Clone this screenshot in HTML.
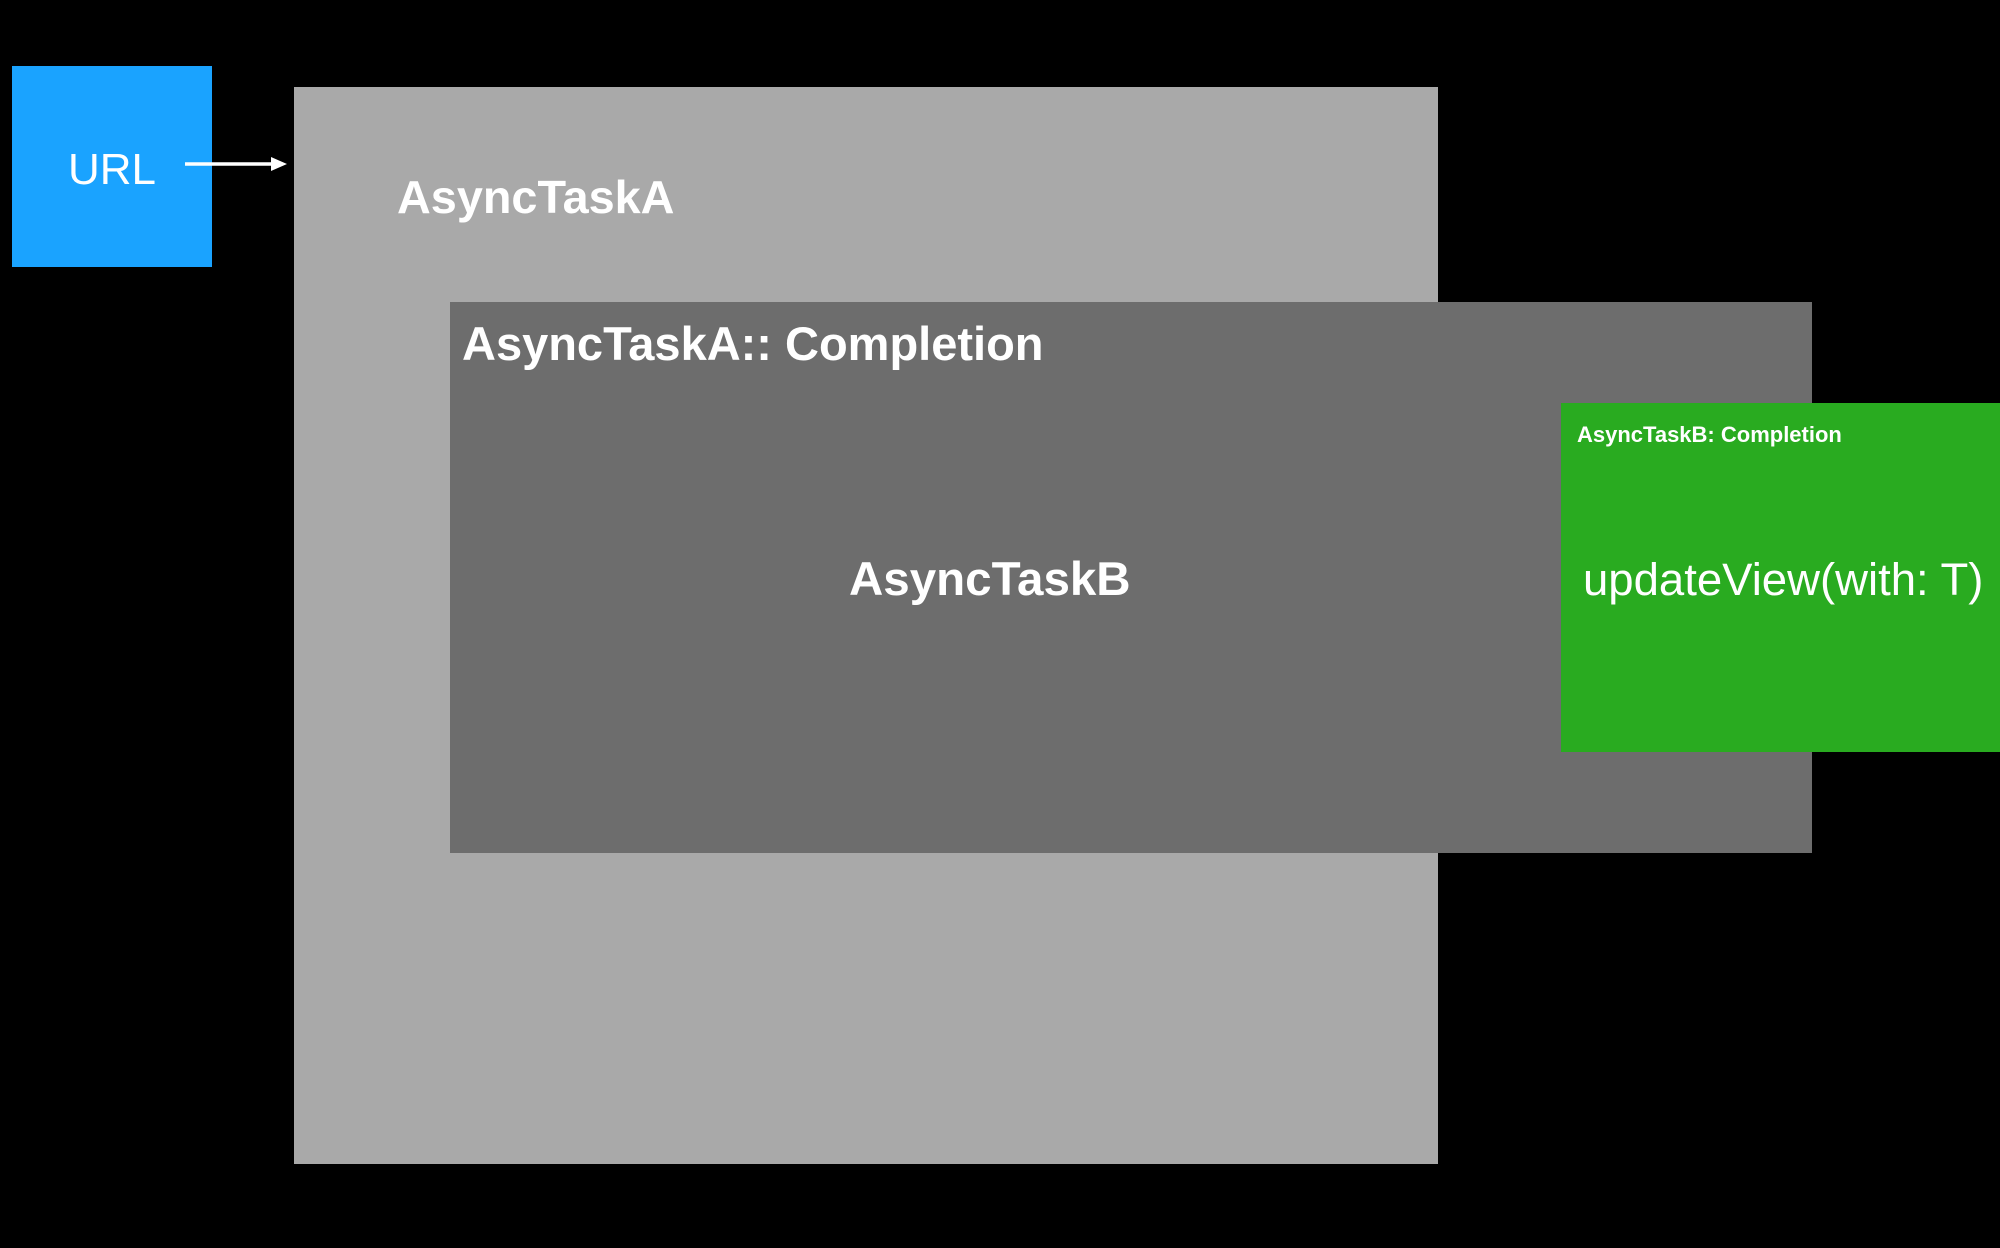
<!DOCTYPE html>
<html><head><meta charset="utf-8"><style>
body{margin:0;width:2000px;height:1248px;background:#000;position:relative;overflow:hidden;font-family:"Liberation Sans",sans-serif;color:#fff}
div{position:absolute;box-sizing:border-box}
.t{white-space:nowrap;line-height:1}
</style></head><body>
<div style="left:12px;top:66px;width:200px;height:201px;background:#1aa3ff"></div>
<div class="t" style="left:68px;top:148px;font-size:44px">URL</div>
<svg style="position:absolute;left:0;top:0" width="2000" height="1248">
<line x1="185" y1="164" x2="275" y2="164" stroke="#fff" stroke-width="3.5"/>
<polygon points="287,164 271,157 271,171" fill="#fff"/>
</svg>
<div style="left:294px;top:87px;width:1144px;height:1077px;background:#a9a9a9"></div>
<div class="t" style="left:397px;top:174px;font-size:46.8px;font-weight:bold">AsyncTaskA</div>
<div class="t" style="left:462px;top:320px;font-size:47px;font-weight:bold">AsyncTaskA:: Completion</div>
<div style="left:450px;top:302px;width:1362px;height:551px;background:#6d6d6d;z-index:-0"></div>
<div class="t" style="left:462px;top:320px;font-size:47px;font-weight:bold">AsyncTaskA:: Completion</div>
<div class="t" style="left:849px;top:556px;font-size:47.5px;font-weight:bold">AsyncTaskB</div>
<div style="left:1561px;top:403px;width:439px;height:349px;background:#29ab20"></div>
<div class="t" style="left:1577px;top:424px;font-size:22px;font-weight:bold">AsyncTaskB: Completion</div>
<div class="t" style="left:1583px;top:557px;font-size:45.5px">updateView(with: T)</div>
</body></html>
